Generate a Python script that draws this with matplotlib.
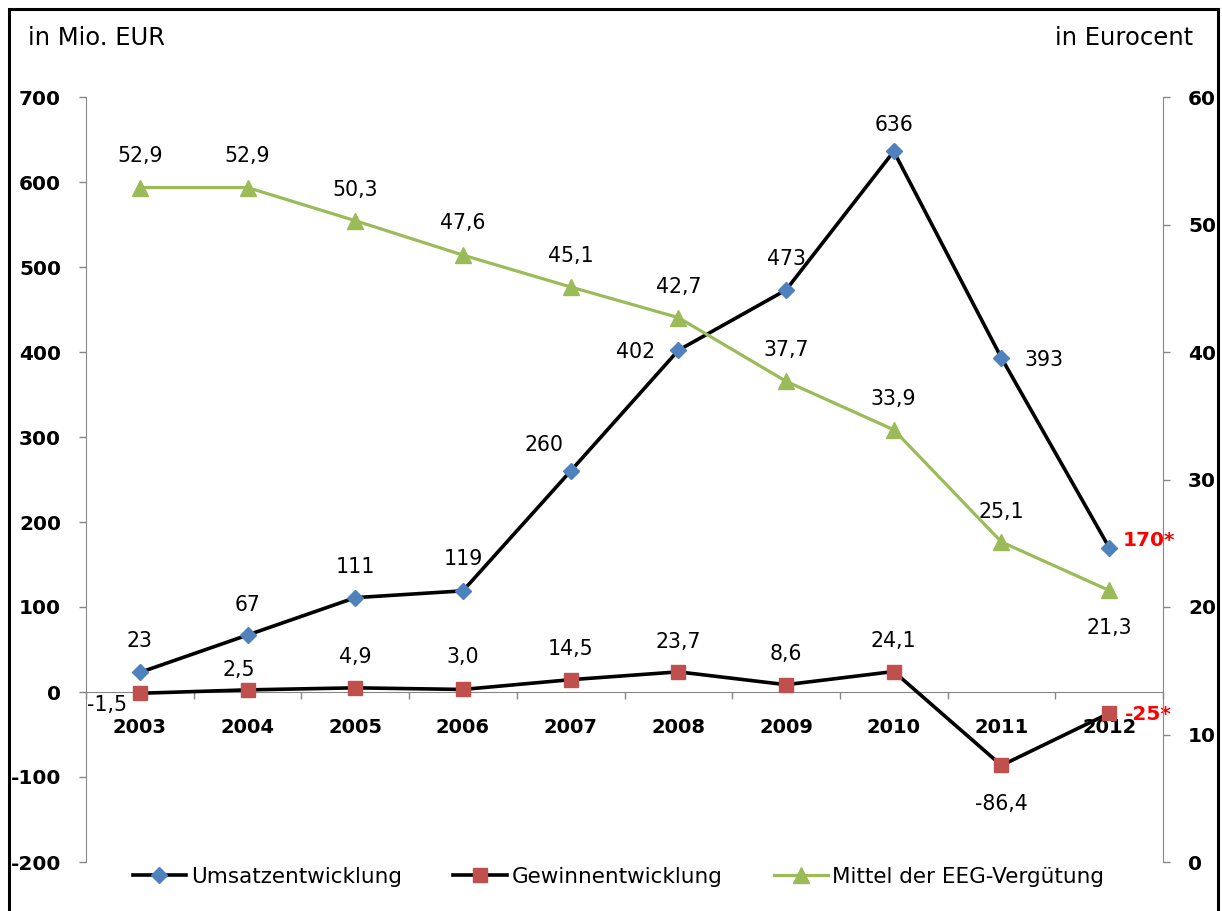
import numpy as np
import matplotlib
matplotlib.use("Agg")
import matplotlib.pyplot as plt
from matplotlib.patches import Rectangle
from matplotlib.font_manager import FontProperties
from matplotlib.ticker import FixedLocator

# ---- data ----
years = ["2003", "2004", "2005", "2006", "2007", "2008", "2009", "2010", "2011", "2012"]
umsatz = [23, 67, 111, 119, 260, 402, 473, 636, 393, 170]
gewinn = [-1.5, 2.5, 4.9, 3.0, 14.5, 23.7, 8.6, 24.1, -86.4, -25]
eeg = [52.9, 52.9, 50.3, 47.6, 45.1, 42.7, 37.7, 33.9, 25.1, 21.3]
left_ticks = [-200, -100, 0, 100, 200, 300, 400, 500, 600, 700]
right_ticks = [0, 10, 20, 30, 40, 50, 60]
series_names = ["Umsatzentwicklung", "Gewinnentwicklung", "Mittel der EEG-Vergütung"]

# ---- label offsets (pixels) ----
off_umsatz = [(0, 33), (0, 32), (0, 33), (0, 34), (-27, 28), (-43, 0), (0, 33), (0, 28), (43, 0), None]
off_gewinn = [(-33, -10), (-9, 22), (0, 33), (0, 34), (0, 33), (0, 32), (0, 33), (0, 33), (0, -37), None]
off_eeg = [(0, 34), (0, 34), (0, 33), (0, 34), (0, 33), (0, 33), (0, 33), (0, 33), (0, 32), (0, -36)]

GRAY = "#868686"
BLUE = "#4F81BD"
RED = "#C0504D"
GREEN = "#9BBB59"

fig = plt.figure(figsize=(12.22, 9.11), dpi=100)
W, H = 1222, 911
ax = fig.add_axes([86 / W, 1 - 862 / H, (1163 - 86) / W, (862 - 97) / H])
ax2 = ax.twinx()

x = np.arange(len(years))

l1, = ax.plot(x, umsatz, color="black", lw=2.6, marker="D", ms=8,
              mfc=BLUE, mec=BLUE, zorder=3)
l2, = ax.plot(x, gewinn, color="black", lw=2.6, marker="s", ms=10.5,
              mfc=RED, mec=RED, zorder=3)
l3, = ax2.plot(x, eeg, color=GREEN, lw=2.3, marker="^", ms=11,
               mfc=GREEN, mec=GREEN, zorder=3)

def fmt1(v):
    return f"{v:.1f}".replace(".", ",")

LBL = dict(fontsize=14.8, color="black", ha="center", va="center_baseline")
for i, v in enumerate(umsatz):
    o = off_umsatz[i]
    if o is None:
        ax.annotate(f"{v}*", (x[i], v), xytext=(14, 9), textcoords="offset pixels",
                    ha="left", va="center_baseline", fontsize=14.5, color="red",
                    fontweight="bold")
    else:
        ax.annotate(f"{v}", (x[i], v), xytext=o, textcoords="offset pixels", **LBL)
for i, v in enumerate(gewinn):
    o = off_gewinn[i]
    if o is None:
        ax.annotate(f"{v:.0f}*", (x[i], v), xytext=(16, 1), textcoords="offset pixels",
                    ha="left", va="center_baseline", fontsize=14.5, color="red",
                    fontweight="bold")
    else:
        ax.annotate(fmt1(v), (x[i], v), xytext=o, textcoords="offset pixels", **LBL)
for i, v in enumerate(eeg):
    ax2.annotate(fmt1(v), (x[i], v), xytext=off_eeg[i], textcoords="offset pixels", **LBL)

# ---- spines ----
for s in ["top", "right"]:
    ax.spines[s].set_visible(False)
for s in ["top", "left", "bottom"]:
    ax2.spines[s].set_visible(False)
ax.spines["left"].set_color(GRAY)
ax.spines["bottom"].set_color(GRAY)
ax.spines["bottom"].set_position(("data", 0))
ax2.spines["right"].set_color(GRAY)
ax.patch.set_visible(False)

# ---- axes ----
ax.set_xlim(-0.5, len(years) - 0.5)
ax.set_ylim(-200, 700)
ax2.set_ylim(0, 60)

ax.set_yticks(left_ticks)
ax.set_yticklabels([str(t) for t in left_ticks])
ax2.set_yticks(right_ticks)
ax2.set_yticklabels([str(t) for t in right_ticks])
ax.tick_params(axis="y", direction="out", length=5, width=1, color=GRAY, pad=13)
ax2.tick_params(axis="y", direction="out", length=5, width=1, color=GRAY, pad=13)

# category labels at centres (major, no tick mark), tick marks at boundaries (minor)
ax.set_xticks(x)
ax.set_xticklabels(years)
ax.xaxis.set_minor_locator(FixedLocator(np.arange(-0.5, len(years), 1.0)))
ax.tick_params(axis="x", which="major", length=0, pad=19)
ax.tick_params(axis="x", which="minor", direction="out", length=5, width=1, color=GRAY)

fp_y = FontProperties(family="DejaVu Sans", weight="bold", size=14.5)
fp_x = FontProperties(family="DejaVu Sans", weight="bold", size=14)
for lbl in ax.get_yticklabels() + ax2.get_yticklabels():
    lbl.set_fontproperties(fp_y)
for lbl in ax.get_xticklabels():
    lbl.set_fontproperties(fp_x)

# ---- titles ----
fig.text(28 / W, 1 - 38 / H, "in Mio. EUR", ha="left", va="center", fontsize=17.5)
fig.text(1193 / W, 1 - 38 / H, "in Eurocent", ha="right", va="center", fontsize=17.5)

# ---- legend ----
fig.legend([l1, l2, l3], series_names, loc="center", bbox_to_anchor=(0.506, 1 - 877 / H),
           ncol=3, frameon=False, prop=dict(size=15.5), handlelength=2.5,
           handletextpad=0.2, columnspacing=2.4, numpoints=1)

# ---- border ----
fig.add_artist(Rectangle((9 / W, -0.05), (1218 - 9) / W, 1 - 9 / H + 0.05,
                         transform=fig.transFigure, fill=False, lw=2.2, ec="black"))

fig.savefig("out.png", dpi=100)
